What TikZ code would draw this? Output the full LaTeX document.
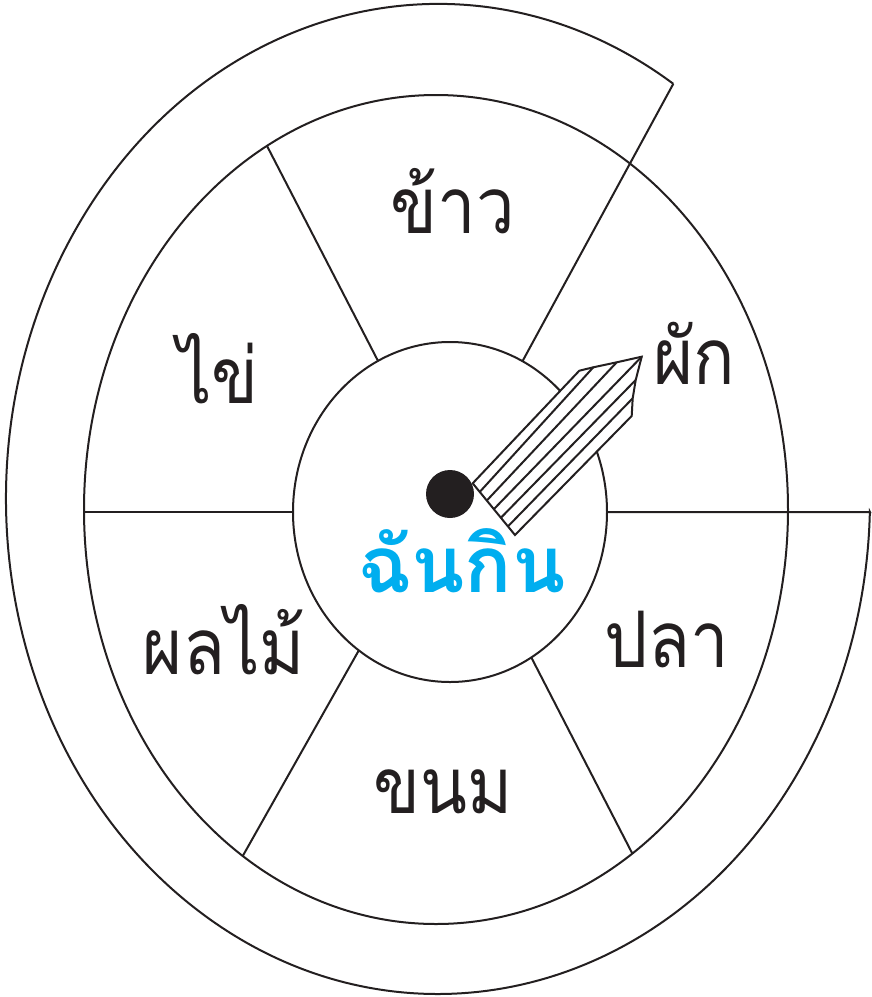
\documentclass[tikz,border=0pt]{standalone}
\usepackage{fontspec}
\newfontfamily\thai[Script=Thai]{Loma}
\newfontfamily\thainarrow[Script=Thai,FakeStretch=0.88]{Loma}
\usetikzlibrary{calc}
\definecolor{ink}{HTML}{231F20}
\definecolor{thaiblue}{HTML}{00AEEF}
\begin{document}
\begin{tikzpicture}[x=1pt,y=-1pt,line width=2pt,draw=ink,
  lbl/.style={anchor=base,inner sep=0pt,font=\thainarrow\fontsize{78}{80}\selectfont,text=ink},
  title/.style={anchor=base,inner sep=0pt,font=\thai\bfseries\fontsize{78}{80}\selectfont,text=thaiblue},
  ring/.style={draw=ink,line width=2pt},
  pencil/.style={draw=ink,line width=2pt,fill=white,line join=miter}]
\useasboundingbox (0,0) rectangle (872,997);
% key points
\coordinate (cin) at (450,512);
\coordinate (cmid) at (436,509.5);
\coordinate (outStart) at (673.3,83.8);
\coordinate (outEnd) at (869.9,512);
\coordinate (inR) at (607,512);
\coordinate (inL) at (293,512);
\coordinate (midL) at (84,512);
\coordinate (midTL) at (267.0,145.9);
\coordinate (inTL) at (378.0,360.9);
\coordinate (inTR) at (522.5,361.2);
\coordinate (midBL) at (242.8,855.9);
\coordinate (inBL) at (358.8,650.4);
\coordinate (midBR) at (632.3,853.5);
\coordinate (inBR) at (531.3,657.4);
% rings
\draw[ring] (cmid) ellipse [x radius=352, y radius=414.5];
\draw[ring] (cin) ellipse [x radius=157, y radius=170];
\draw[ring] (outStart) arc[start angle=-57, end angle=-358.5, x radius=432, y radius=495] -- (outEnd) -- (inR);
\draw[ring] (outStart) -- (inTR);
% dividers
\draw[ring] (midTL) -- (inTL);
\draw[ring] (midL) -- (inL);
\draw[ring] (midBL) -- (inBL);
\draw[ring] (midBR) -- (inBR);
% pencil pointer
\coordinate (pA) at (472.7,483.3);
\coordinate (pB) at (515,535);
\coordinate (p0) at (579.3,370.7);
\coordinate (p1) at (593.3,367.3);
\coordinate (p2) at (616.7,362.3);
\coordinate (p3) at (641.7,356.7);
\coordinate (p4) at (635.7,380);
\coordinate (p5) at (632.7,398.3);
\coordinate (p6) at (631.7,416);
\draw[pencil] (pA) -- (p0) -- (p1) -- (p2) -- (p3) -- (p4) -- (p5) -- (p6) -- (pB) -- cycle;
\foreach \k in {1,...,5}{
  \draw[ink,line width=2pt] ($(pA)!\k/6!(pB)$) -- (p\k);
}
\fill[ink] (450,494) circle [radius=24];
% labels
\node[lbl] (khao) at (453,233) {ข้าว};
\node[lbl] (phak) at (694,384) {ผัก};
\node[lbl] (khai) at (218,403) {ไข่};
\node[lbl] (phonlamai) at (224,674) {ผลไม้};
\node[lbl] (khanom) at (443,813) {ขนม};
\node[lbl] (pla) at (667,667) {ปลา};
\node[title] (chankin) at (462,592) {ฉันกิน};
\end{tikzpicture}
\end{document}
